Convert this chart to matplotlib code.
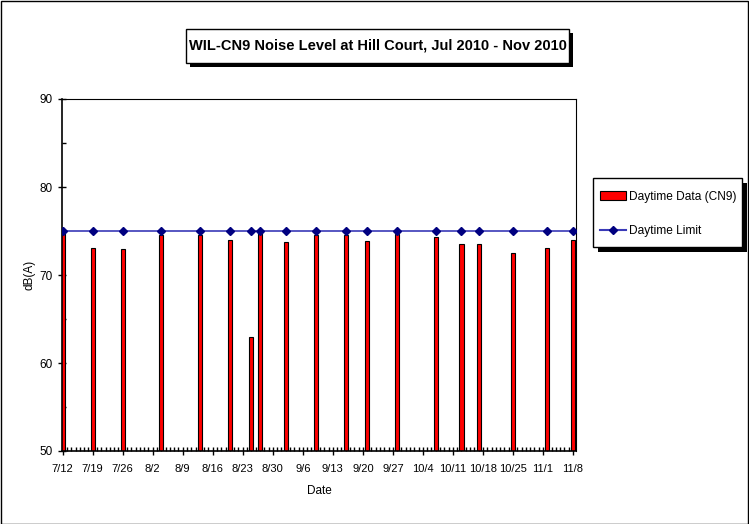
import datetime as dt
import matplotlib
matplotlib.use("Agg")
import matplotlib.pyplot as plt
import matplotlib.dates as mdates
from matplotlib.patches import Rectangle, Patch
from matplotlib.lines import Line2D

plt.rcParams['font.family'] = ['Liberation Sans', 'DejaVu Sans']

# daytime noise readings at CN9 (2010)
dates = ['7/12', '7/19', '7/26', '8/4', '8/13', '8/20', '8/25', '8/27', '9/2', '9/9',
         '9/16', '9/21', '9/28', '10/7', '10/13', '10/17', '10/25', '11/2', '11/8']
levels = [74.8, 73.1, 72.9, 74.5, 74.6, 74.0, 62.9, 74.8, 73.75, 74.5,
          74.5, 73.9, 74.7, 74.3, 73.5, 73.5, 72.5, 73.1, 74.0]
limit = 75

week_labels = ['7/12', '7/19', '7/26', '8/2', '8/9', '8/16', '8/23', '8/30', '9/6',
               '9/13', '9/20', '9/27', '10/4', '10/11', '10/18', '10/25', '11/1', '11/8']


def to_date(s):
    m, d = s.split('/')
    return dt.datetime(2010, int(m), int(d))


def px_box(x0, y0, w, h, **kw):
    # rectangle given in pixels from the top-left corner of the figure
    return Rectangle((x0/749, 1-(y0+h)/524), w/749, h/524,
                     transform=fig.transFigure, **kw)


x = [to_date(d) for d in dates]
xw = [to_date(d) for d in week_labels]

fig = plt.figure(figsize=(7.49, 5.24), dpi=100)
ax = fig.add_axes([62/749, 1-451/524, (576-62)/749, (451-99)/524])

ax.bar(x, [v - 50 for v in levels], bottom=50, width=1.0, color='#ff0000',
       edgecolor='black', linewidth=0.8, zorder=2)
ax.plot(x, [limit]*len(x), color='#3a3ab8', linewidth=1.2, marker='D',
        markersize=4, markerfacecolor='#000080', markeredgecolor='#000080', zorder=3)

ax.set_ylim(50, 90)
ax.set_yticks([50, 60, 70, 80, 90])
ax.set_yticks([55, 65, 75, 85], minor=True)
ax.set_xlim(mdates.date2num(xw[0]) - 0.15, mdates.date2num(xw[-1]) + 0.7)
ax.set_xticks(xw)
ax.set_xticklabels(week_labels)
ax.xaxis.set_minor_locator(mdates.DayLocator())
ax.tick_params(axis='both', which='major', direction='inout', length=6, width=1, labelsize=8)
ax.tick_params(axis='y', which='major', labelsize=8.5)
ax.tick_params(axis='x', which='major', pad=6)
ax.tick_params(axis='both', which='minor', direction='in', length=3, width=1)
for sp in ax.spines.values():
    sp.set_linewidth(0.8)
ax.spines['left'].set_linewidth(1.2)
ax.spines['bottom'].set_linewidth(1.2)

ax.set_ylabel('dB(A)', fontsize=8.5, labelpad=3)
ax.set_xlabel('Date', fontsize=8.5, labelpad=8)

# title box with drop shadow
fig.patches.append(px_box(190, 33, 383, 34, fc='black', ec='none', zorder=1))
fig.patches.append(px_box(186, 29, 383, 34, fc='white', ec='black', lw=1, zorder=2))
fig.text((186+383/2)/749, 1-46/524,
         'WIL-CN9 Noise Level at Hill Court, Jul 2010 - Nov 2010',
         ha='center', va='center', fontsize=10.5, fontweight='bold', zorder=3)

# legend box with drop shadow
fig.patches.append(px_box(598, 183, 149, 69, fc='black', ec='none', zorder=1))
fig.patches.append(px_box(593, 178, 149, 69, fc='white', ec='black', lw=1, zorder=2))
handles = [Patch(facecolor='#ff0000', edgecolor='black', linewidth=0.8),
           Line2D([], [], color='#3a3ab8', marker='D', markersize=4,
                  markerfacecolor='#000080', markeredgecolor='#000080')]
leg = fig.legend(handles, ['Daytime Data (CN9)', 'Daytime Limit'],
                 loc='center left', bbox_to_anchor=(600/749, 1-214/524),
                 fontsize=8.6, frameon=False, handlelength=2.2,
                 handleheight=0.9, handletextpad=0.2, labelspacing=1.9,
                 borderpad=0, borderaxespad=0)
leg.set_zorder(3)

# outer border
fig.patches.append(Rectangle((0.5/749, 0.5/524), 1-1.5/749, 1-1.5/524,
                             transform=fig.transFigure, fc='none', ec='black', lw=1))

fig.savefig('out.png', dpi=100)
